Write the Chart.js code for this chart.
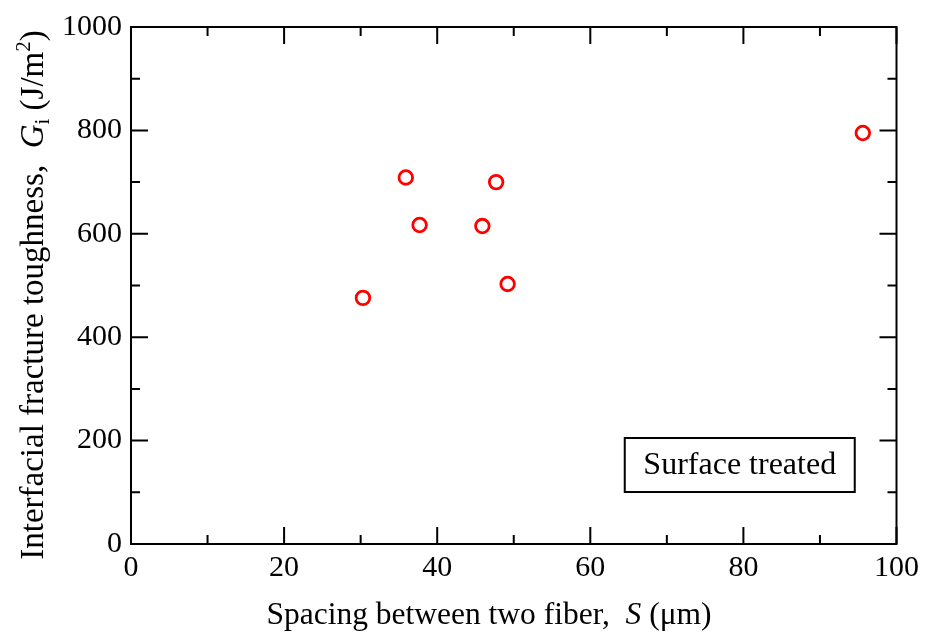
<!DOCTYPE html>
<html>
<head>
<meta charset="utf-8">
<script src="https://cdn.jsdelivr.net/npm/chart.js@4.4.0/dist/chart.umd.min.js"></script>
<style>
  html, body { margin: 0; padding: 0; background: #fff; }
</style>
</head>
<body>
<canvas id="myChart" width="925" height="635"></canvas>
<script>
// data
const spacing = [30.3, 35.9, 37.7, 45.9, 47.7, 49.2, 95.6];
const toughness = [476, 709, 617, 615, 700, 503, 795];
const xRange = [0, 100];
const yRange = [0, 1000];
const xStep = 20;
const yStep = 200;
const legendText = 'Surface treated';

const SERIF = '"Liberation Serif", "Times New Roman", serif';

function drawRuns(ctx, runs, cx, cy) {
    let total = 0;
    runs.forEach(r => {
        ctx.font = r.font;
        r.w = ctx.measureText(r.t).width;
        total += r.w;
    });
    let x = cx - total / 2;
    ctx.textAlign = 'left';
    ctx.textBaseline = 'alphabetic';
    runs.forEach(r => {
        ctx.font = r.font;
        ctx.fillText(r.t, x, cy + (r.dy || 0));
        x += r.w;
    });
}

const framePlugin = {
    id: 'frame',
    beforeDatasetsDraw(chart) {
        const ctx = chart.ctx;
        const a = chart.chartArea;
        const xs = chart.scales.x;
        const ys = chart.scales.y;
        ctx.save();
        ctx.strokeStyle = '#000';
        ctx.lineWidth = 2;
        ctx.strokeRect(a.left, a.top, a.right - a.left, a.bottom - a.top);

        // ticks, inward, on all four sides
        const major = 17, minor = 9;
        ctx.beginPath();
        for (let v = xs.min; v <= xs.max + 1e-9; v += xStep / 2) {
            const px = xs.getPixelForValue(v);
            const len = (Math.round(v / (xStep / 2)) % 2 === 0) ? major : minor;
            ctx.moveTo(px, a.bottom); ctx.lineTo(px, a.bottom - len);
            ctx.moveTo(px, a.top); ctx.lineTo(px, a.top + len);
        }
        for (let v = ys.min; v <= ys.max + 1e-9; v += yStep / 2) {
            const py = ys.getPixelForValue(v);
            const len = (Math.round(v / (yStep / 2)) % 2 === 0) ? major : minor;
            ctx.moveTo(a.left, py); ctx.lineTo(a.left + len, py);
            ctx.moveTo(a.right, py); ctx.lineTo(a.right - len, py);
        }
        ctx.stroke();

        // label box
        const bx = a.left + (a.right - a.left) * 0.645;
        const by = a.top + (a.bottom - a.top) * 0.795;
        const bw = 230, bh = 54;
        ctx.strokeRect(bx, by, bw, bh);
        ctx.fillStyle = '#000';
        ctx.font = '32px ' + SERIF;
        ctx.textAlign = 'center';
        ctx.textBaseline = 'middle';
        ctx.fillText(legendText, bx + bw / 2, by + bh / 2 + 1);

        // axis titles
        const normal = '31.5px ' + SERIF;
        const italic = 'italic 31.5px ' + SERIF;
        drawRuns(ctx, [
            { t: 'Spacing between two fiber,  ', font: normal },
            { t: 'S', font: italic },
            { t: ' (\u03bcm)', font: normal }
        ], 489, 624);

        const yn = '33px ' + SERIF;
        const yi = 'italic 33px ' + SERIF;
        const ys2 = '21px ' + SERIF;
        ctx.translate(43, 295);
        ctx.rotate(-Math.PI / 2);
        drawRuns(ctx, [
            { t: 'Interfacial fracture toughness,  ', font: yn },
            { t: 'G', font: yi },
            { t: 'i', font: ys2, dy: 6 },
            { t: ' (J/m', font: yn },
            { t: '2', font: ys2, dy: -13 },
            { t: ')', font: yn }
        ], 0, 0);
        ctx.restore();
    }
};

const ctx = document.getElementById('myChart');
new Chart(ctx, {
    type: 'scatter',
    data: {
        datasets: [{
            data: spacing.map((s, i) => ({ x: s, y: toughness[i] })),
            pointStyle: 'circle',
            pointRadius: 6.8,
            pointHoverRadius: 6.8,
            borderWidth: 2.8,
            borderColor: '#ff0000',
            backgroundColor: 'rgba(255,255,255,0)'
        }]
    },
    options: {
        responsive: false,
        animation: false,
        devicePixelRatio: 1,
        layout: { padding: { left: 0, top: 21, right: 28, bottom: 0 } },
        plugins: { legend: { display: false }, tooltip: { enabled: false } },
        scales: {
            x: {
                type: 'linear',
                min: xRange[0], max: xRange[1],
                grid: { display: false, drawTicks: false },
                border: { display: false },
                ticks: { stepSize: xStep, color: '#000', padding: 6, font: { family: SERIF, size: 30 } },
                afterFit: s => { s.height = 91; }
            },
            y: {
                type: 'linear',
                min: yRange[0], max: yRange[1],
                grid: { display: false, drawTicks: false },
                border: { display: false },
                ticks: {
                    stepSize: yStep, color: '#000', padding: 9,
                    font: { family: SERIF, size: 30 },
                    callback: v => String(v)
                },
                afterFit: s => { s.width = 131; }
            }
        }
    },
    plugins: [framePlugin]
});
</script>
</body>
</html>
